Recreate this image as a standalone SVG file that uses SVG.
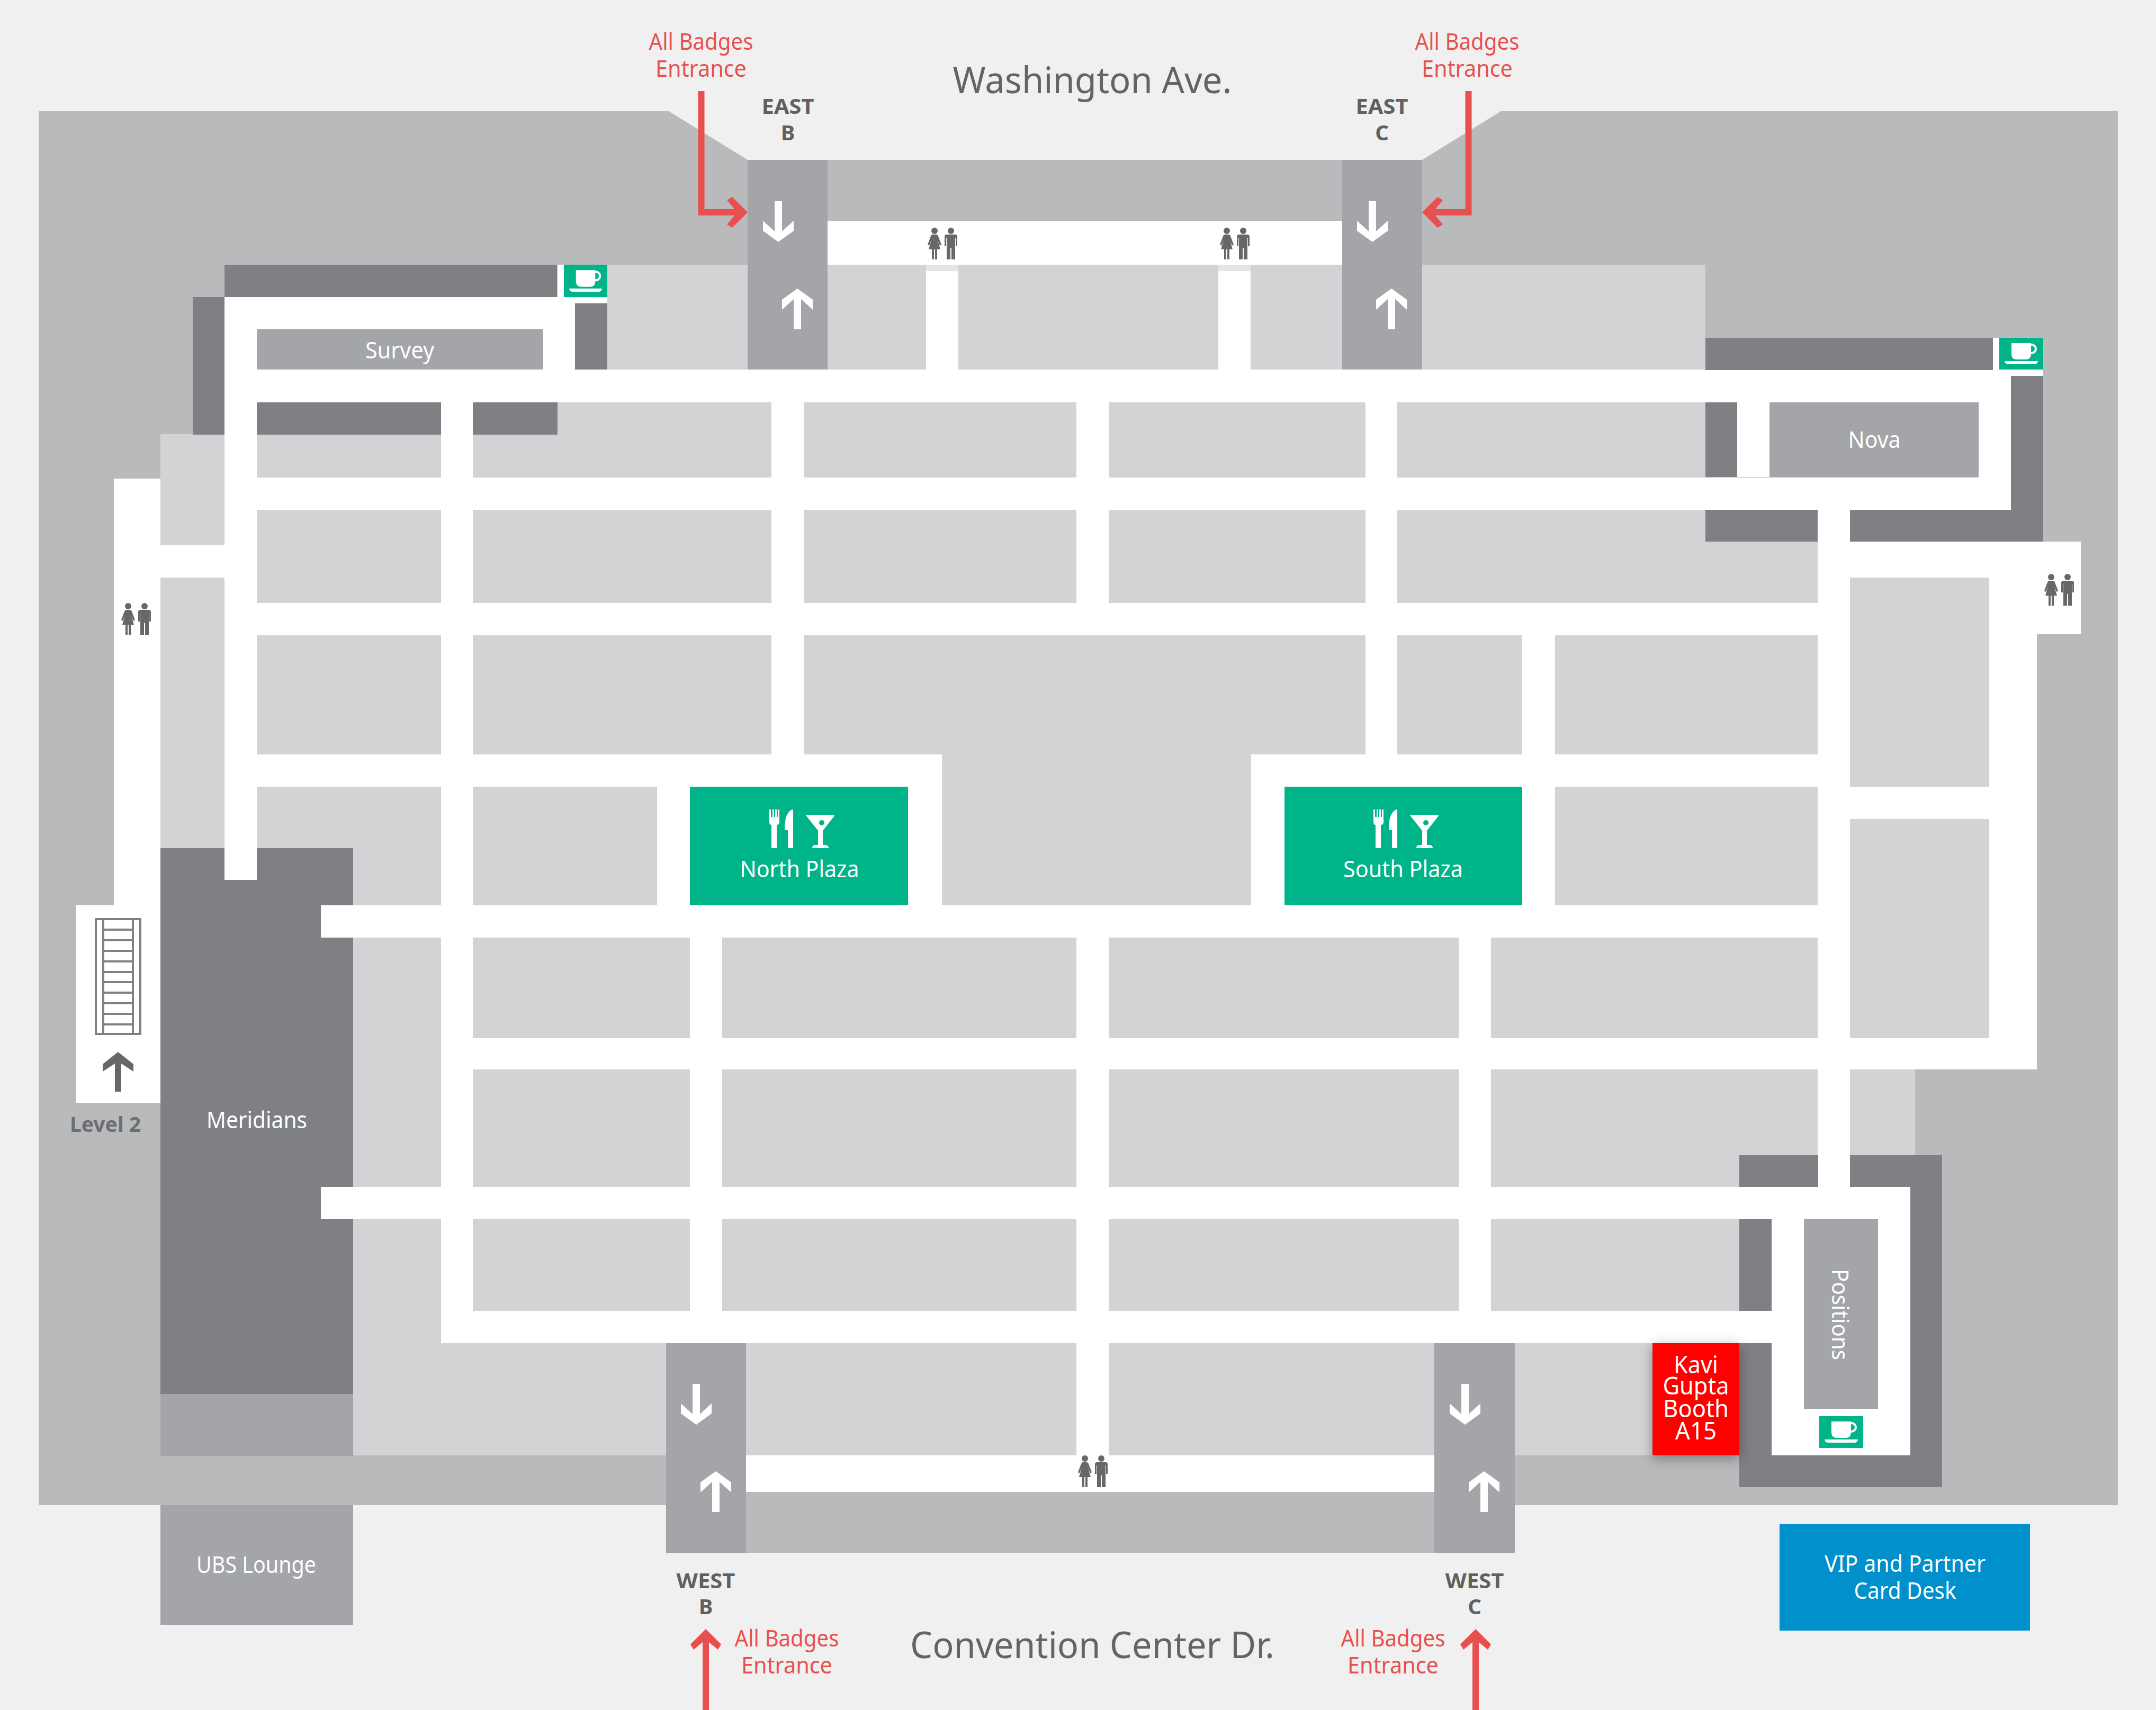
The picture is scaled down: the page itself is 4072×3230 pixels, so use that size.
<svg xmlns="http://www.w3.org/2000/svg" xmlns:xlink="http://www.w3.org/1999/xlink" width="4072" height="3230" viewBox="0 0 4072 3230">
<style>
text{font-family:"Noto Sans","Open Sans","Liberation Sans",sans-serif;text-anchor:middle}
.w{fill:#fff}.d{fill:#7e8083}.m{fill:#a3a5a8}.f{fill:#d1d3d4}.g{fill:#00b48a}.i{fill:#666769}
.lab{fill:#fff;font-size:44px}.red{fill:#e8504f;font-size:44px}.door{fill:#5f6062;font-size:40px;font-weight:700}.street{fill:#636466;font-size:70px}
.kavi{fill:#fff;font-size:46px}
</style>
<defs>
<path id="dn" fill="#fff" d="M-7-77H7V-20L29-40V-21L0 0L-29-21V-40L-7-20Z"/>
<path id="rh" fill="#e8504f" d="M0 0L-29-29L-39-23L-20 0L-39 23L-29 29Z"/>
<g id="wc" class="i">
<circle cx="0" cy="6" r="6"/>
<path d="M-3 13H3Q6 13 7 16L13 32L10 34L6 24L11 41H5V60H1V41H-1V60H-5V41H-11L-6 24L-10 34L-13 32L-7 16Q-6 13-3 13Z"/>
<circle cx="31" cy="6" r="6"/>
<path d="M23 13H39Q43 13 43 17V35H40V19H39V60H32V38H30V60H23V19H22V35H19V17Q19 13 23 13Z"/>
</g>
<g id="cup">
<rect class="g" width="83" height="60"/>
<path class="w" d="M23 10H60V30Q60 41 50 41H33Q23 41 23 30Z"/>
<circle cx="61" cy="21" r="8" fill="none" stroke="#fff" stroke-width="4"/>
<path class="w" d="M10 44H73Q72 50 66 50H17Q11 50 10 44Z"/>
</g>
<g id="dine" class="w">
<path d="M0 0H3V14H6V0H9V14H11V0H14V14H16V0H19V24Q19 29 14 29V73H4V29Q0 29 0 24Z"/>
<path d="M45 0V73H35V39H29Q29 14 36 6Q40 0 45 0Z"/>
<path fill-rule="evenodd" d="M69 11Q70 10 72 10H121Q123 10 123 12L101 40V67H107Q112 68 112 73H81Q81 68 86 67H92V40ZM99 20a5 5 0 1 0 .1 0Z"/>
</g>
<filter id="sh" x="-30%" y="-30%" width="160%" height="160%"><feDropShadow dx="0" dy="6" stdDeviation="12" flood-color="#000" flood-opacity=".35"/></filter>
</defs>
<rect width="4072" height="3230" fill="#eff0ef"/>
<g id="building">
<polygon fill="#b8babb" points="73,210 1263,210 1412,302 2686,302 2835,210 4000,210 4000,2843 2860,2843 2860,2933 1258,2933 1258,2843 73,2843"/>
<polygon class="f" points="303,820 1053,820 1053,698 1147,698 1147,500 3221,500 3221,1023 3494,1023 3494,1091 3757,1091 3757,2020 3617,2020 3617,2182 3285,2182 3285,2749 303,2749"/>
</g>
<g id="corridors" class="w">
<rect x="1563" y="417" width="972" height="83"/>
<rect x="1749" y="512" width="61" height="186"/><rect x="2301" y="512" width="61" height="186"/>
<rect x="1749" y="500" width="61" height="12" fill="#e4e6e5"/><rect x="2301" y="500" width="61" height="12" fill="#e4e6e5"/>
<rect x="424" y="698" width="3374" height="62"/>
<rect x="424" y="902" width="3374" height="61"/>
<rect x="3281" y="760" width="61" height="141"/>
<rect x="424" y="1139" width="3009" height="61"/>
<rect x="424" y="1425" width="1355" height="61"/><rect x="2363" y="1425" width="1070" height="61"/>
<rect x="606" y="1710" width="2888" height="61"/>
<rect x="833" y="1961" width="3014" height="59"/>
<rect x="606" y="2242" width="3002" height="61"/>
<rect x="833" y="2476" width="2513" height="61"/>
<rect x="424" y="561" width="723" height="62"/><rect x="1026" y="561" width="60" height="137"/>
<rect x="424" y="561" width="61" height="1101"/>
<rect x="215" y="904" width="88" height="806"/><rect x="303" y="1029" width="121" height="62"/>
<rect x="144" y="1710" width="159" height="373"/>
<rect x="833" y="698" width="60" height="1839"/>
<rect x="1457" y="698" width="61" height="727"/>
<rect x="2033" y="698" width="61" height="502"/>
<rect x="2579" y="698" width="60" height="727"/>
<rect x="1241" y="1486" width="62" height="224"/><rect x="1715" y="1425" width="64" height="285"/>
<rect x="2363" y="1425" width="63" height="346"/>
<rect x="2875" y="1200" width="62" height="510"/>
<rect x="3433" y="963" width="61" height="1279"/>
<rect x="3737" y="760" width="61" height="203"/>
<rect x="3494" y="1023" width="436" height="68"/><rect x="3757" y="1023" width="173" height="175"/><rect x="3757" y="1198" width="90" height="822"/>
<rect x="3494" y="1486" width="263" height="61"/>
<rect x="1303" y="1771" width="61" height="766"/>
<rect x="2033" y="1771" width="61" height="978"/>
<rect x="2755" y="1771" width="61" height="766"/>
<rect x="1409" y="2749" width="1300" height="69"/>
<rect x="3346" y="2303" width="262" height="446"/>
<rect x="3764" y="638" width="95" height="72"/>
<rect x="1053" y="500" width="12" height="61"/>
</g>
<g id="dark-areas" class="d">
<rect x="424" y="500" width="628" height="61"/><rect x="364" y="561" width="60" height="260"/>
<rect x="1086" y="573" width="61" height="125"/>
<rect x="485" y="760" width="348" height="61"/><rect x="893" y="760" width="160" height="61"/>
<rect x="3221" y="638" width="543" height="61"/>
<rect x="3221" y="760" width="60" height="141"/>
<rect x="3221" y="963" width="212" height="60"/>
<rect x="3494" y="963" width="365" height="60"/><rect x="3798" y="710" width="61" height="313"/>
<rect x="3285" y="2182" width="149" height="60"/><rect x="3494" y="2182" width="174" height="60"/>
<rect x="3608" y="2242" width="60" height="567"/><rect x="3285" y="2749" width="383" height="60"/>
<rect x="3285" y="2303" width="61" height="173"/><rect x="3285" y="2537" width="61" height="212"/>
</g>
<g id="meridians">
<path class="d" d="M303 1602H424V1662H485V1602H667V1710H606V1771H667V2242H606V2303H667V2633H303Z"/>
<rect class="m" x="303" y="2633" width="364" height="117"/>
<text class="lab" x="485" y="2131" textLength="190" lengthAdjust="spacingAndGlyphs">Meridians</text>
</g>
<g id="survey"><rect class="m" x="485" y="622" width="541" height="76"/><text class="lab" x="755" y="677" textLength="130" lengthAdjust="spacingAndGlyphs">Survey</text></g>
<g id="nova"><rect class="m" x="3342" y="760" width="395" height="141"/><text class="lab" x="3540" y="846" textLength="99" lengthAdjust="spacingAndGlyphs">Nova</text></g>
<g id="positions"><rect class="m" x="3407" y="2303" width="140" height="358"/><text class="lab" transform="translate(3460 2483) rotate(90)" textLength="172" lengthAdjust="spacingAndGlyphs">Positions</text></g>
<g id="ubs-lounge"><rect class="m" x="303" y="2843" width="364" height="226"/><text class="lab" x="484" y="2971" textLength="226" lengthAdjust="spacingAndGlyphs">UBS Lounge</text></g>
<g id="east-b">
<rect class="m" x="1412" y="302" width="151" height="396"/>
<use xlink:href="#dn" href="#dn" transform="translate(1470 457)"/><use xlink:href="#dn" href="#dn" transform="translate(1506 545) scale(1 -1)"/>
<text class="door" x="1488" y="215" textLength="99" lengthAdjust="spacingAndGlyphs">EAST</text><text class="door" x="1488" y="265">B</text>
</g>
<g id="east-c">
<rect class="m" x="2535" y="302" width="151" height="396"/>
<use xlink:href="#dn" href="#dn" transform="translate(2592 457)"/><use xlink:href="#dn" href="#dn" transform="translate(2628 545) scale(1 -1)"/>
<text class="door" x="2610" y="215" textLength="99" lengthAdjust="spacingAndGlyphs">EAST</text><text class="door" x="2610" y="265">C</text>
</g>
<g id="west-b">
<rect class="m" x="1258" y="2537" width="151" height="396"/>
<use xlink:href="#dn" href="#dn" transform="translate(1315 2691)"/><use xlink:href="#dn" href="#dn" transform="translate(1352 2779) scale(1 -1)"/>
<text class="door" x="1333" y="3000" textLength="111" lengthAdjust="spacingAndGlyphs">WEST</text><text class="door" x="1333" y="3049">B</text>
</g>
<g id="west-c">
<rect class="m" x="2709" y="2537" width="152" height="396"/>
<use xlink:href="#dn" href="#dn" transform="translate(2767 2691)"/><use xlink:href="#dn" href="#dn" transform="translate(2803 2779) scale(1 -1)"/>
<text class="door" x="2785" y="3000" textLength="111" lengthAdjust="spacingAndGlyphs">WEST</text><text class="door" x="2785" y="3049">C</text>
</g>
<g id="north-plaza">
<rect class="g" x="1303" y="1486" width="412" height="224"/>
<use xlink:href="#dine" href="#dine" transform="translate(1453 1529)"/>
<text class="lab" x="1510" y="1657" textLength="225" lengthAdjust="spacingAndGlyphs">North Plaza</text>
</g>
<g id="south-plaza">
<rect class="g" x="2426" y="1486" width="449" height="224"/>
<use xlink:href="#dine" href="#dine" transform="translate(2594 1529)"/>
<text class="lab" x="2650" y="1657" textLength="226" lengthAdjust="spacingAndGlyphs">South Plaza</text>
</g>
<g id="coffee">
<use xlink:href="#cup" href="#cup" transform="translate(1065 500) scale(.988 1.02)"/>
<use xlink:href="#cup" href="#cup" transform="translate(3776 638)"/>
<use xlink:href="#cup" href="#cup" transform="translate(3436 2675)"/>
</g>
<g id="restrooms">
<use xlink:href="#wc" href="#wc" transform="translate(1765 430)"/>
<use xlink:href="#wc" href="#wc" transform="translate(2317 430)"/>
<use xlink:href="#wc" href="#wc" transform="translate(242 1139)"/>
<use xlink:href="#wc" href="#wc" transform="translate(3874 1084)"/>
<use xlink:href="#wc" href="#wc" transform="translate(2049 2749)"/>
</g>
<g id="stairs-level-2">
<g fill="none" stroke="#808184" stroke-width="4">
<rect x="181" y="1736" width="84" height="217"/><path d="M195 1736V1953M251 1736V1953"/>
<path d="M195 1756H251M195 1776H251M195 1796H251M195 1816H251M195 1836H251M195 1855H251M195 1875H251M195 1895H251M195 1915H251M195 1935H251"/>
</g>
<path class="i" transform="translate(223 1987)" d="M0 0L29 23V37L6 22V75H-6V22L-29 37V23Z"/>
<text x="199" y="2138" font-size="40" font-weight="700" fill="#6d6e71" textLength="134" lengthAdjust="spacingAndGlyphs">Level 2</text>
</g>
<g id="kavi-gupta">
<rect x="3121" y="2537" width="164" height="212" fill="#ff0000" filter="url(#sh)"/>
<text class="kavi" x="3203" y="2594" textLength="84" lengthAdjust="spacingAndGlyphs">Kavi</text>
<text class="kavi" x="3203" y="2634" textLength="125" lengthAdjust="spacingAndGlyphs">Gupta</text>
<text class="kavi" x="3203" y="2677" textLength="124" lengthAdjust="spacingAndGlyphs">Booth</text>
<text class="kavi" x="3203" y="2719" textLength="78" lengthAdjust="spacingAndGlyphs">A15</text>
</g>
<g id="vip-desk">
<rect x="3361" y="2879" width="473" height="201" fill="#0091cc"/>
<text class="lab" x="3598" y="2969" textLength="304" lengthAdjust="spacingAndGlyphs">VIP and Partner</text>
<text class="lab" x="3598" y="3020" textLength="193" lengthAdjust="spacingAndGlyphs">Card Desk</text>
</g>
<g id="connectors" fill="none" stroke="#e8504f" stroke-width="12">
<path d="M1324.5 172V401H1395"/><path d="M2773.5 172V401H2703"/>
<path d="M1333 3095V3230"/><path d="M2787 3095V3230"/>
</g>
<g id="arrowheads">
<use xlink:href="#rh" href="#rh" transform="translate(1412 401)"/>
<use xlink:href="#rh" href="#rh" transform="translate(2686 401) scale(-1 1)"/>
<use xlink:href="#rh" href="#rh" transform="translate(1333 3077) rotate(-90)"/>
<use xlink:href="#rh" href="#rh" transform="translate(2787 3077) rotate(-90)"/>
</g>
<g id="labels">
<text class="red" x="1324" y="94" textLength="197" lengthAdjust="spacingAndGlyphs">All Badges</text>
<text class="red" x="1324" y="145" textLength="172" lengthAdjust="spacingAndGlyphs">Entrance</text>
<text class="red" x="2771" y="94" textLength="197" lengthAdjust="spacingAndGlyphs">All Badges</text>
<text class="red" x="2771" y="145" textLength="172" lengthAdjust="spacingAndGlyphs">Entrance</text>
<text class="red" x="1486" y="3110" textLength="197" lengthAdjust="spacingAndGlyphs">All Badges</text>
<text class="red" x="1486" y="3161" textLength="172" lengthAdjust="spacingAndGlyphs">Entrance</text>
<text class="red" x="2631" y="3110" textLength="197" lengthAdjust="spacingAndGlyphs">All Badges</text>
<text class="red" x="2631" y="3161" textLength="172" lengthAdjust="spacingAndGlyphs">Entrance</text>
<text class="street" x="2063" y="176" textLength="527" lengthAdjust="spacingAndGlyphs">Washington Ave.</text>
<text class="street" x="2063" y="3132" textLength="688" lengthAdjust="spacingAndGlyphs">Convention Center Dr.</text>
</g>
</svg>
